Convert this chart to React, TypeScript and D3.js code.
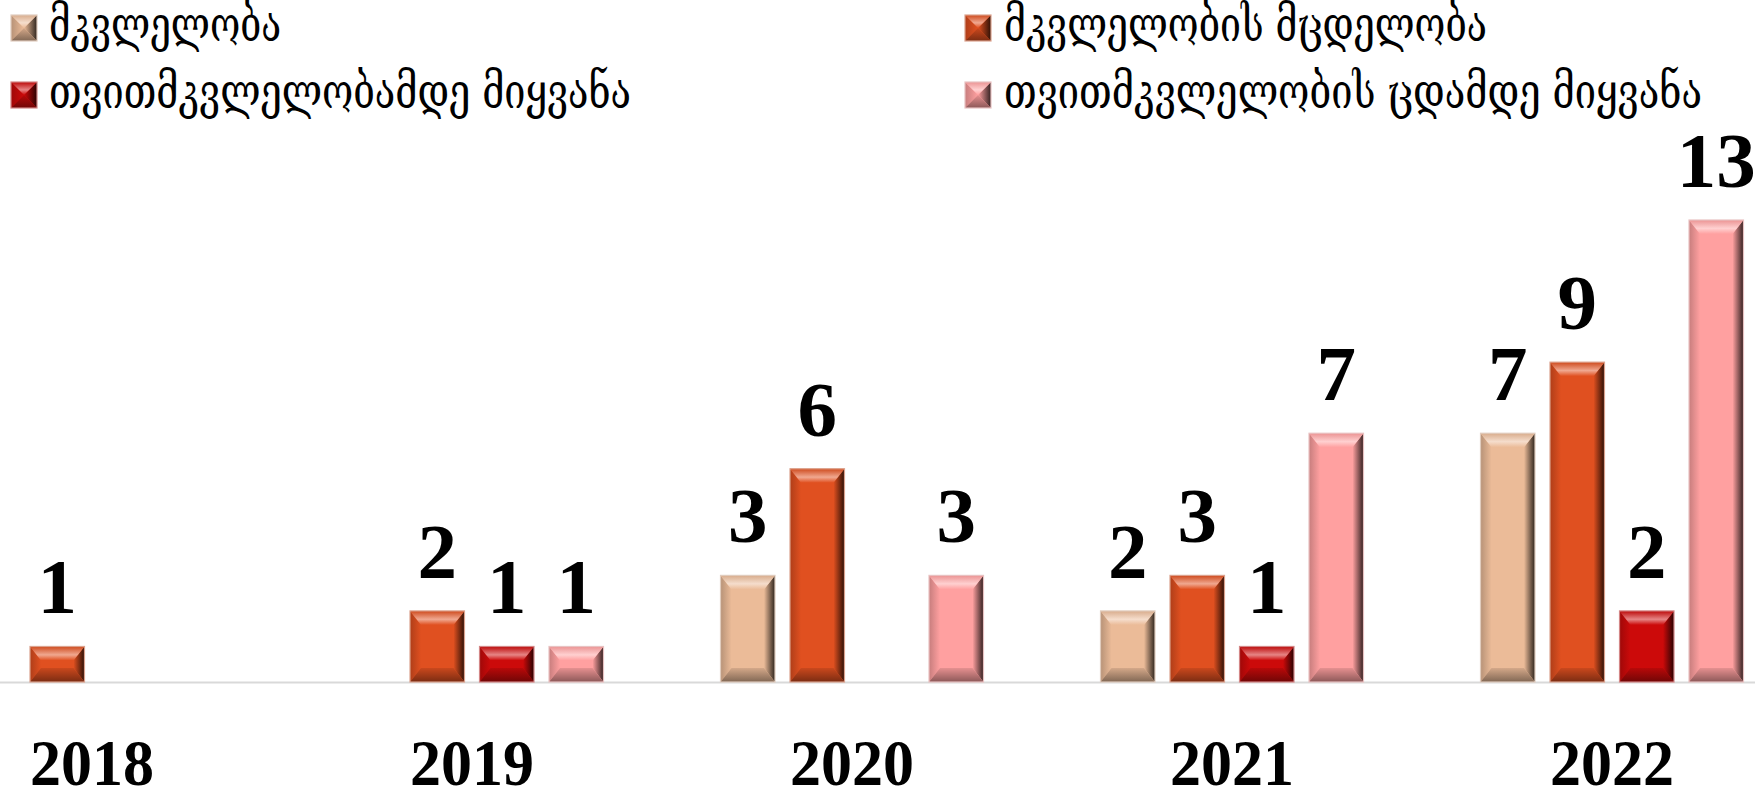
import React from "react";
import * as d3 from "d3";

const categories = ["2018", "2019", "2020", "2021", "2022"];
const seriesNames = [
  "მკვლელობა",
  "მკვლელობის მცდელობა",
  "თვითმკვლელობამდე მიყვანა",
  "თვითმკვლელობის ცდამდე მიყვანა",
];
const murder = [0, 0, 3, 2, 7];
const attemptedMurder = [1, 2, 6, 3, 9];
const driveToSuicide = [0, 1, 0, 1, 2];
const driveToSuicideAttempt = [0, 1, 3, 7, 13];
const seriesValues = [murder, attemptedMurder, driveToSuicide, driveToSuicideAttempt];
const colors = ["#EBBB98", "#E05020", "#CC0A0A", "#FFA0A0"];

const W = 1755;
const H = 792;
const baseY = 682;

const mix = (a: string, b: string, t: number) => d3.interpolateRgb(a, b)(t);

function Defs() {
  return (
    <defs>
      {colors.map((c, i) => (
        <React.Fragment key={i}>
          <linearGradient id={`top${i}`} x1="0" y1="0" x2="0" y2="1">
            <stop offset="0%" stopColor={mix(c, "#000", 0.08)} />
            <stop offset="60%" stopColor={mix(c, "#fff", 0.5)} />
            <stop offset="100%" stopColor={c} />
          </linearGradient>
          <linearGradient id={`bot${i}`} x1="0" y1="0" x2="0" y2="1">
            <stop offset="0%" stopColor={mix(c, "#000", 0.1)} />
            <stop offset="100%" stopColor={mix(c, "#000", 0.45)} />
          </linearGradient>
          <linearGradient id={`lft${i}`} x1="0" y1="0" x2="1" y2="0">
            <stop offset="0%" stopColor={mix(c, "#000", 0.22)} />
            <stop offset="100%" stopColor={c} />
          </linearGradient>
          <linearGradient id={`rgt${i}`} x1="0" y1="0" x2="1" y2="0">
            <stop offset="0%" stopColor={c} />
            <stop offset="100%" stopColor={mix(c, "#000", 0.8)} />
          </linearGradient>
        </React.Fragment>
      ))}
    </defs>
  );
}

function Bevel({ x, y, w, h, ci, bx, by }: { x: number; y: number; w: number; h: number; ci: number; bx: number; by: number }) {
  const c = colors[ci];
  const byy = Math.min(by, h / 2);
  const bxx = Math.min(bx, w / 2);
  const pts = (a: number[][]) => a.map((p) => p.join(",")).join(" ");
  return (
    <g>
      <rect x={x} y={y} width={w} height={h} fill={c} />
      <polygon fill={`url(#lft${ci})`} points={pts([[x, y], [x + bxx, y + byy], [x + bxx, y + h - byy], [x, y + h]])} />
      <polygon fill={`url(#rgt${ci})`} points={pts([[x + w, y], [x + w - bxx, y + byy], [x + w - bxx, y + h - byy], [x + w, y + h]])} />
      <polygon fill={`url(#top${ci})`} points={pts([[x, y], [x + w, y], [x + w - bxx, y + byy], [x + bxx, y + byy]])} />
      <polygon fill={`url(#bot${ci})`} points={pts([[x, y + h], [x + w, y + h], [x + w - bxx, y + h - byy], [x + bxx, y + h - byy]])} />
      <rect x={x} y={y} width={w} height={h} fill="none" stroke={mix(c, "#d8d8d8", 0.6)} strokeWidth={1.2} />
    </g>
  );
}

export default function App() {
  const x0 = d3.scaleBand<string>().domain(categories).range([-98, 1802]).padding(0);
  const groupW = 263;
  const x1 = d3.scaleBand<number>().domain([0, 1, 2, 3]).range([0, groupW]).paddingInner(0.216).paddingOuter(0);
  const y = d3.scaleLinear().domain([0, 13]).range([baseY, 220]);

  const legendItems = [
    { ci: 0, x: 11, y: 15, tx: 49, ty: 41, len: 232 },
    { ci: 1, x: 965, y: 15, tx: 1004, ty: 41, len: 483 },
    { ci: 2, x: 11, y: 82, tx: 49, ty: 108, len: 582 },
    { ci: 3, x: 965, y: 82, tx: 1004, ty: 108, len: 698 },
  ];

  return (
    <svg width={W} height={H} style={{ position: "absolute", left: 0, top: 0, background: "#fff" }}>
      <Defs />
      <rect x={0} y={0} width={W} height={H} fill="#fff" />
      <line x1={0} x2={W} y1={baseY + 0.5} y2={baseY + 0.5} stroke="#d9d9d9" strokeWidth={2} />
      {categories.map((cat, ci) => {
        const gx = (x0(cat) as number) + x0.bandwidth() / 2 - groupW / 2;
        return (
          <g key={cat}>
            {seriesValues.map((vals, si) => {
              const v = vals[ci];
              if (!v) return null;
              const bx = gx + (x1(si) as number);
              const bw = x1.bandwidth();
              const top = y(v);
              return (
                <g key={si}>
                  <Bevel x={bx} y={top} w={bw} h={baseY - top} ci={si} bx={11} by={14} />
                  <text
                    x={bx + bw / 2}
                    y={top - 33}
                    textAnchor="middle"
                    fontFamily="'Liberation Serif', serif"
                    fontWeight="bold"
                    fontSize={79}
                    fill="#000"
                  >
                    {v}
                  </text>
                </g>
              );
            })}
            <text
              x={(x0(cat) as number) + x0.bandwidth() / 2}
              y={785}
              textAnchor="middle"
              fontFamily="'Liberation Serif', serif"
              fontWeight="bold"
              fontSize={66}
              textLength={124}
              lengthAdjust="spacingAndGlyphs"
              fill="#000"
            >
              {cat}
            </text>
          </g>
        );
      })}
      {legendItems.map((it) => (
        <g key={it.ci}>
          <Bevel x={it.x} y={it.y} w={26} h={26} ci={it.ci} bx={13} by={13} />
          <text
            x={it.tx}
            y={it.ty}
            fontFamily="'DejaVu Serif', 'DejaVu Sans', serif"
            fontSize={48}
            textLength={it.len}
            lengthAdjust="spacingAndGlyphs"
            fill="#000"
          >
            {seriesNames[it.ci]}
          </text>
        </g>
      ))}
    </svg>
  );
}
